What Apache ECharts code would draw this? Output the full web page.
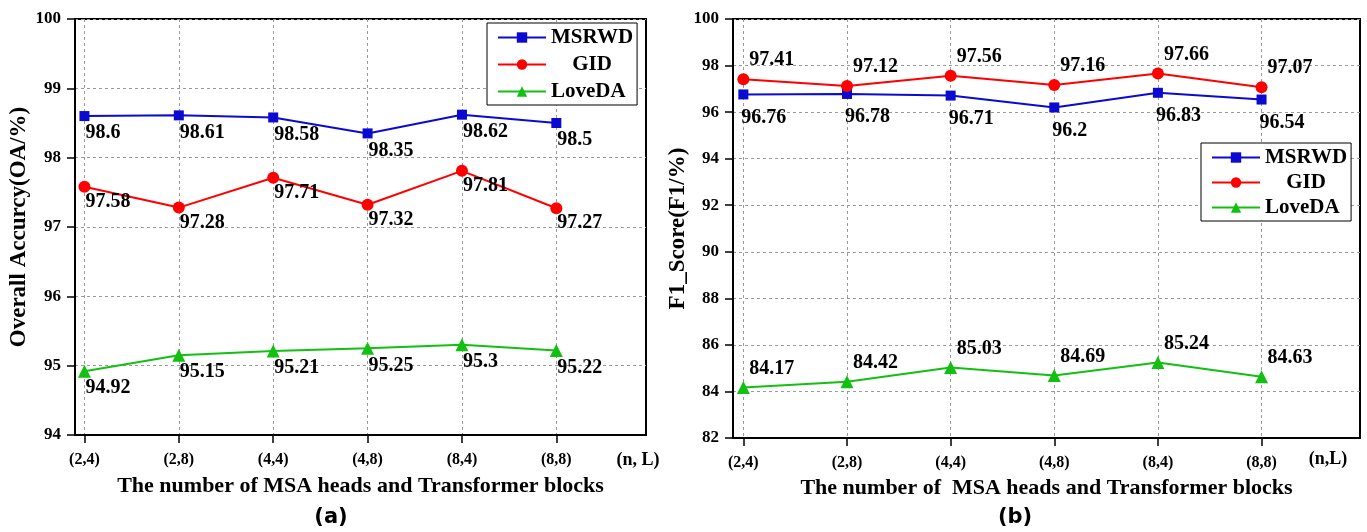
<!DOCTYPE html>
<html>
<head>
<meta charset="utf-8">
<script src="https://cdn.jsdelivr.net/npm/echarts@6/dist/echarts.min.js"></script>
<style>
html,body{margin:0;padding:0;background:#fff;}
#chart{width:1367px;height:532px;}
</style>
</head>
<body>
<div id="chart"></div>
<script>
// ---- data ----
var categories = ['(2,4)', '(2,8)', '(4,4)', '(4,8)', '(8,4)', '(8,8)'];
var seriesNames = ['MSRWD', 'GID', 'LoveDA'];
var oaMSRWD  = [98.6, 98.61, 98.58, 98.35, 98.62, 98.5];
var oaGID    = [97.58, 97.28, 97.71, 97.32, 97.81, 97.27];
var oaLoveDA = [94.92, 95.15, 95.21, 95.25, 95.3, 95.22];
var f1MSRWD  = [96.76, 96.78, 96.71, 96.2, 96.83, 96.54];
var f1GID    = [97.41, 97.12, 97.56, 97.16, 97.66, 97.07];
var f1LoveDA = [84.17, 84.42, 85.03, 84.69, 85.24, 84.63];
var oaTicks = {min: 94, max: 100, interval: 1};
var f1Ticks = {min: 82, max: 100, interval: 2};

// ---- styles ----
var SERIF = '"Liberation Serif", "Times New Roman", serif';
var colors = {MSRWD: '#0a0ad0', GID: '#ff0000', LoveDA: '#12c012'};
var symbols = {MSRWD: ['rect', 10], GID: ['circle', 12], LoveDA: ['triangle', 13]};

function pts(arr) { return arr.map(function (v, i) { return [i, v]; }); }

var tickIdx = categories.map(function (c, i) { return i; });

function xAxis(gridIndex, name, gap) {
  return {
    type: 'value', gridIndex: gridIndex, min: -0.1, max: 5.95,
    name: name, nameLocation: 'middle', nameGap: gap,
    nameTextStyle: {fontFamily: SERIF, fontWeight: 'bold', fontSize: 22, color: '#000'},
    axisLine: {show: true, onZero: false, lineStyle: {color: '#000', width: 2}},
    axisTick: {show: true, inside: false, length: 8, customValues: tickIdx, lineStyle: {color: '#000', width: 1.5}},
    axisLabel: {customValues: tickIdx, margin: 17, fontFamily: SERIF, fontWeight: 'bold', fontSize: 16, color: '#000',
      formatter: function (v) { return categories[Math.round(v)] || ''; }},
    splitLine: {show: true, lineStyle: {color: '#9a9a9a', type: [3, 3], width: 1}}
  };
}
function yAxis(gridIndex, t, name, gap) {
  return {
    type: 'value', gridIndex: gridIndex, min: t.min, max: t.max, interval: t.interval,
    name: name, nameLocation: 'middle', nameGap: gap,
    nameTextStyle: {fontFamily: SERIF, fontWeight: 'bold', fontSize: 23, color: '#000'},
    axisLine: {show: true, onZero: false, lineStyle: {color: '#000', width: 2}},
    axisTick: {show: true, inside: false, length: 8, lineStyle: {color: '#000', width: 1.5}},
    axisLabel: {margin: 14, fontFamily: SERIF, fontWeight: 'bold', fontSize: 17, color: '#000'},
    splitLine: {show: true, lineStyle: {color: '#9a9a9a', type: [3, 3], width: 1}}
  };
}
function mkSeries(name, data, gi, labelCfg) {
  return {
    type: 'line', name: name, xAxisIndex: gi, yAxisIndex: gi,
    data: pts(data),
    symbol: symbols[name][0], symbolSize: symbols[name][1],
    lineStyle: {color: colors[name], width: 2},
    itemStyle: {color: colors[name]},
    label: Object.assign({
      show: true, position: ['50%', '50%'],
      fontFamily: SERIF, fontWeight: 'bold', fontSize: 20, color: '#000',
      formatter: function (p) { return String(p.value[1]); }
    }, labelCfg),
    z: 3
  };
}
var below = function (dx, dy) { return {align: 'left', verticalAlign: 'top', offset: [dx, dy]}; };
var above = function (dx, dy) { return {align: 'left', verticalAlign: 'bottom', offset: [dx, dy]}; };

function legend(left, top, gap, pad) {
  return {
    left: left, top: top, orient: 'vertical',
    data: seriesNames,
    itemWidth: 48, itemHeight: 13, itemGap: gap,
    padding: pad,
    borderColor: '#000', borderWidth: 1, backgroundColor: '#fff',
    formatter: function (n) { return n === 'GID' ? '{c|GID}' : n; },
    textStyle: {fontFamily: SERIF, fontWeight: 'bold', fontSize: 21, color: '#000',
      rich: {c: {width: 82, align: 'center', fontFamily: SERIF, fontWeight: 'bold', fontSize: 21, color: '#000'}}}
  };
}

var chart = echarts.init(document.getElementById('chart'), null, {renderer: 'canvas'});
chart.setOption({
  backgroundColor: '#fff',
  animation: false,
  title: [
    {text: '(n, L)', left: 638, top: 451, textAlign: 'center', padding: 0,
     textStyle: {fontFamily: SERIF, fontWeight: 'bold', fontSize: 18, color: '#000'}},
    {text: '(n,L)', left: 1328, top: 450, textAlign: 'center', padding: 0,
     textStyle: {fontFamily: SERIF, fontWeight: 'bold', fontSize: 18, color: '#000'}},
    {text: '(a)', left: 331, top: 507, textAlign: 'center', padding: 0,
     textStyle: {fontFamily: '"DejaVu Sans", sans-serif', fontWeight: 'bold', fontSize: 21, color: '#000'}},
    {text: '(b)', left: 1015, top: 507, textAlign: 'center', padding: 0,
     textStyle: {fontFamily: '"DejaVu Sans", sans-serif', fontWeight: 'bold', fontSize: 21, color: '#000'}}
  ],
  legend: [legend(487, 23, 6, [4, 4, 3, 10]), legend(1201, 143, 4, [4, 4, 3, 10])],
  grid: [
    {left: 75, top: 19, width: 571, height: 416, show: true, borderColor: '#000', borderWidth: 2, backgroundColor: 'transparent'},
    {left: 733, top: 19, width: 627, height: 419, show: true, borderColor: '#000', borderWidth: 2, backgroundColor: 'transparent'}
  ],
  xAxis: [
    xAxis(0, 'The number of MSA heads and Transformer blocks', 40),
    xAxis(1, 'The number of  MSA heads and Transformer blocks', 39)
  ],
  yAxis: [
    yAxis(0, oaTicks, 'Overall Accurcy(OA/%)', 44),
    yAxis(1, f1Ticks, 'F1_Score(F1/%)', 37)
  ],
  series: [
    mkSeries('MSRWD', oaMSRWD, 0, below(1, 7)),
    mkSeries('GID', oaGID, 0, below(1, 5)),
    mkSeries('LoveDA', oaLoveDA, 0, below(1, 7)),
    mkSeries('MSRWD', f1MSRWD, 1, below(-2, 13)),
    mkSeries('GID', f1GID, 1, above(6, -9)),
    mkSeries('LoveDA', f1LoveDA, 1, above(6, -9))
  ]
});
</script>
</body>
</html>
